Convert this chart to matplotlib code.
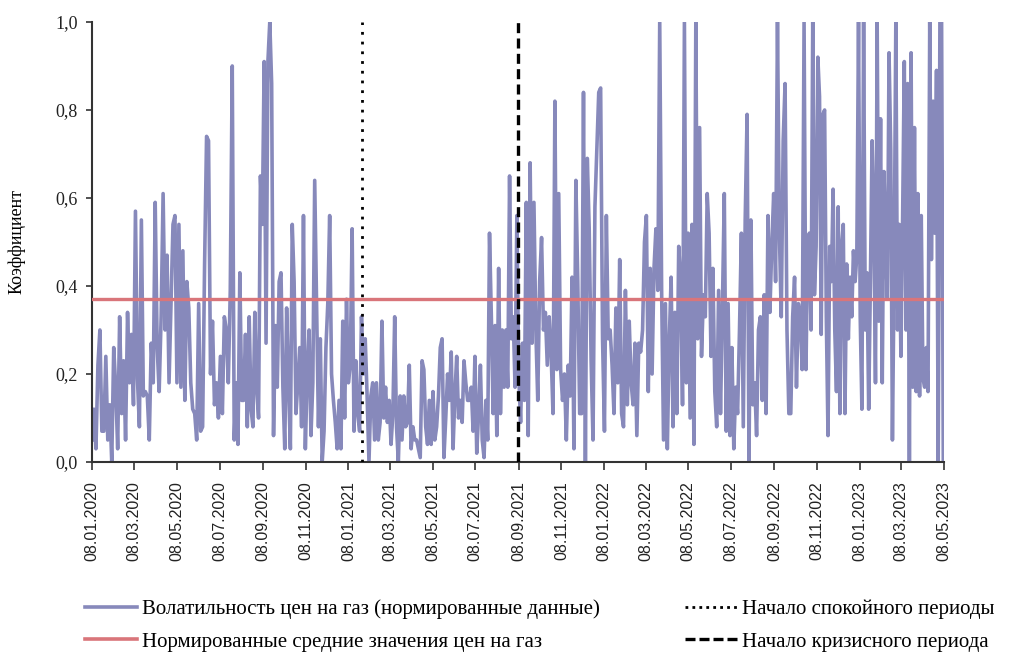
import numpy as np
import pandas as pd
import matplotlib
matplotlib.use("Agg")
import matplotlib.pyplot as plt
from matplotlib.lines import Line2D

# -----------------------------
# Data (in six chunks)
# -----------------------------

seg_bounds = ["2020-01-08", "2020-07-29", "2021-02-17", "2021-09-08",
              "2022-03-31", "2022-10-23", "2023-05-07"]

seg1 = [0.05, 0.12, 0.03, 0.22, 0.30, 0.07, 0.07, 0.24, 0.05, 0.13, 0.00, 0.26,
        0.17, 0.03, 0.33, 0.11, 0.23, 0.05, 0.34, 0.18, 0.29, 0.13, 0.57, 0.19,
        0.08, 0.55, 0.15, 0.16, 0.15, 0.05, 0.27, 0.18, 0.59, 0.26, 0.16, 0.33,
        0.61, 0.30, 0.47, 0.18, 0.36, 0.54, 0.56, 0.18, 0.54, 0.17, 0.48, 0.14,
        0.41, 0.35, 0.18, 0.12, 0.11, 0.05, 0.36, 0.07, 0.08, 0.45, 0.74, 0.73,
        0.20, 0.32, 0.13, 0.18, 0.10, 0.24, 0.11, 0.33, 0.30, 0.18, 0.39, 0.90]

seg2 = [0.05, 0.18, 0.04, 0.43, 0.14, 0.14, 0.29, 0.08, 0.33, 0.12, 0.08, 0.34,
        0.17, 0.10, 0.65, 0.54, 0.91, 0.27, 0.91, 1.00, 0.86, 0.06, 0.31, 0.17,
        0.41, 0.43, 0.17, 0.03, 0.35, 0.18, 0.03, 0.54, 0.41, 0.11, 0.18, 0.26,
        0.08, 0.56, 0.03, 0.20, 0.30, 0.06, 0.18, 0.64, 0.36, 0.08, 0.28, 0.00,
        0.07, 0.26, 0.36, 0.56, 0.20, 0.14, 0.09, 0.03, 0.14, 0.03, 0.32, 0.10,
        0.37, 0.18, 0.22, 0.53, 0.07, 0.23, 0.11, 0.07, 0.33, 0.20, 0.28, 0.15,
        0.00, 0.15, 0.18, 0.05]

seg3 = [0.18, 0.05, 0.09, 0.32, 0.10, 0.17, 0.09, 0.14, 0.04, 0.11, 0.33, 0.08,
        0.00, 0.15, 0.05, 0.15, 0.08, 0.09, 0.22, 0.03, 0.08, 0.05, 0.05, 0.03,
        0.01, 0.23, 0.21, 0.08, 0.04, 0.14, 0.04, 0.16, 0.05, 0.08, 0.15, 0.26,
        0.28, 0.01, 0.10, 0.20, 0.14, 0.25, 0.03, 0.15, 0.24, 0.10, 0.14, 0.09,
        0.23, 0.18, 0.14, 0.14, 0.17, 0.07, 0.24, 0.02, 0.11, 0.22, 0.05, 0.01,
        0.14, 0.05, 0.52, 0.33, 0.11, 0.31, 0.06, 0.44, 0.11, 0.30, 0.17, 0.30,
        0.17, 0.65, 0.28, 0.33, 0.17, 0.56]

seg4 = [0.20, 0.09, 0.27, 0.14, 0.59, 0.06, 0.68, 0.27, 0.59, 0.30, 0.14, 0.41,
        0.51, 0.30, 0.34, 0.22, 0.33, 0.25, 0.11, 0.82, 0.21, 0.61, 0.21, 0.14,
        0.20, 0.05, 0.22, 0.15, 0.42, 0.03, 0.64, 0.41, 0.11, 0.11, 0.84, 0.00,
        0.69, 0.53, 0.23, 0.05, 0.58, 0.71, 0.84, 0.85, 0.28, 0.07, 0.56, 0.28,
        0.30, 0.22, 0.11, 0.35, 0.18, 0.46, 0.11, 0.08, 0.39, 0.13, 0.32, 0.18,
        0.13, 0.27, 0.06, 0.27, 0.25, 0.30, 0.50, 0.56, 0.16, 0.44, 0.20, 0.44,
        0.53, 0.39, 1.00]

seg5 = [0.39, 0.05, 0.36, 0.03, 0.27, 0.42, 0.08, 0.34, 0.11, 0.49, 0.41, 0.13,
        1.00, 0.18, 0.52, 0.10, 0.54, 0.04, 1.00, 0.28, 0.76, 0.24, 0.38, 0.33,
        0.61, 0.52, 0.24, 0.44, 0.16, 0.08, 0.39, 0.11, 0.35, 0.61, 0.07, 0.36,
        0.06, 0.26, 0.03, 0.17, 0.11, 0.30, 0.52, 0.08, 0.55, 0.79, 0.00, 0.55,
        0.13, 0.18, 0.06, 0.30, 0.33, 0.14, 0.38, 0.11, 0.56, 0.34, 0.49, 0.61,
        0.41, 1.00, 0.52, 0.33, 0.73, 0.86, 0.30, 0.11, 0.11, 0.33, 0.42, 0.17,
        0.36, 0.33, 0.21, 1.00]

seg6 = [0.21, 0.49, 0.52, 0.30, 1.00, 0.38, 0.49, 0.92, 0.83, 0.29, 0.79, 0.80,
        0.33, 0.06, 0.49, 0.41, 0.62, 0.30, 0.16, 0.58, 0.11, 0.49, 0.54, 0.11,
        0.45, 0.28, 0.42, 0.33, 0.48, 0.41, 0.47, 1.00, 0.33, 0.12, 1.00, 0.30,
        0.43, 0.12, 0.41, 0.73, 0.56, 0.18, 1.00, 0.32, 0.78, 0.18, 0.66, 0.50,
        0.37, 0.93, 0.71, 0.05, 0.43, 1.00, 0.30, 0.54, 0.24, 0.55, 0.91, 0.30,
        0.86, 0.00, 0.93, 0.17, 0.76, 0.16, 0.61, 0.15, 0.56, 0.19, 0.17, 0.26,
        0.16, 1.00, 0.46, 0.82, 0.52, 0.89, 0.00, 1.00, 1.00, 0.00]

mean_level = 0.37
calm_start = "2021-01-27"
crisis_start = "2021-09-07"

tick_labels = ["08.01.2020", "08.03.2020", "08.05.2020", "08.07.2020",
               "08.09.2020", "08.11.2020", "08.01.2021", "08.03.2021",
               "08.05.2021", "08.07.2021", "08.09.2021", "08.11.2021",
               "08.01.2022", "08.03.2022", "08.05.2022", "08.07.2022",
               "08.09.2022", "08.11.2022", "08.01.2023", "08.03.2023",
               "08.05.2023"]
y_ticks = [0.0, 0.2, 0.4, 0.6, 0.8, 1.0]

# -----------------------------
# Build the time series
# -----------------------------

segments = [seg1, seg2, seg3, seg4, seg5, seg6]
bounds = pd.to_datetime(seg_bounds)

dates = []
values = []
for i, seg in enumerate(segments):
    start = bounds[i].value
    end = bounds[i + 1].value
    stamps = np.linspace(start, end, len(seg), endpoint=(i == len(segments) - 1))
    dates.extend(pd.to_datetime(stamps))
    values.extend(seg)

tick_dates = pd.to_datetime(tick_labels, format="%d.%m.%Y")

# -----------------------------
# Plot
# -----------------------------

serif = "Liberation Serif"
sans = "Liberation Sans"

fig = plt.figure(figsize=(10.12, 6.54), dpi=100)
ax = fig.add_axes([0.0909, 0.2936, 0.8419, 0.6728])

vol_color = "#8789bb"
mean_color = "#d9757a"

ax.plot(dates, values, color=vol_color, lw=2.6, solid_joinstyle="round", zorder=2)
ax.axhline(mean_level, color=mean_color, lw=2.4, zorder=3)
ax.axvline(pd.Timestamp(calm_start), color="black", lw=2.0,
           linestyle=(0, (1, 2.5)), zorder=4)
ax.axvline(pd.Timestamp(crisis_start), color="black", lw=2.4,
           linestyle=(0, (3, 1.6)), zorder=4)

ax.set_xlim(pd.Timestamp("2020-01-08"), pd.Timestamp("2023-05-08"))
ax.set_ylim(0, 1.0)

ax.set_xticks(tick_dates)
ax.set_xticklabels(tick_labels, rotation=90, fontfamily=sans, fontsize=11.5,
                   color="#222222")
ax.set_yticks(y_ticks)
ax.set_yticklabels([f"{v:.1f}".replace(".", ",") for v in y_ticks],
                   fontfamily=serif, fontsize=13, color="#222222")

ax.tick_params(axis="x", direction="out", length=6, width=1.2, color="#333333", pad=8)
ax.tick_params(axis="y", direction="out", length=4, width=1.2, color="#333333", pad=6)

for side in ["top", "right"]:
    ax.spines[side].set_visible(False)
for side in ["left", "bottom"]:
    ax.spines[side].set_color("#333333")
    ax.spines[side].set_linewidth(1.5)

ax.set_ylabel("Коэффициент", fontfamily=serif, fontsize=13, labelpad=22)

# -----------------------------
# Legend
# -----------------------------

handles = [
    Line2D([], [], color=vol_color, lw=2.6),
    Line2D([], [], color=mean_color, lw=2.6),
    Line2D([], [], color="black", lw=2.0, linestyle=(0, (1, 1.5))),
    Line2D([], [], color="black", lw=2.4, linestyle=(0, (3, 1.2))),
]
labels = [
    "Волатильность цен на газ (нормированные данные)",
    "Нормированные средние значения цен на газ",
    "Начало спокойного периоды",
    "Начало кризисного периода",
]

fig.legend(handles, labels, ncol=2, loc="upper left",
           bbox_to_anchor=(0.065, 0.112), frameon=False,
           prop={"family": serif, "size": 15},
           handlelength=2.5, handletextpad=0.24, columnspacing=4.1,
           labelspacing=0.62)

fig.savefig("out.png", dpi=100)
